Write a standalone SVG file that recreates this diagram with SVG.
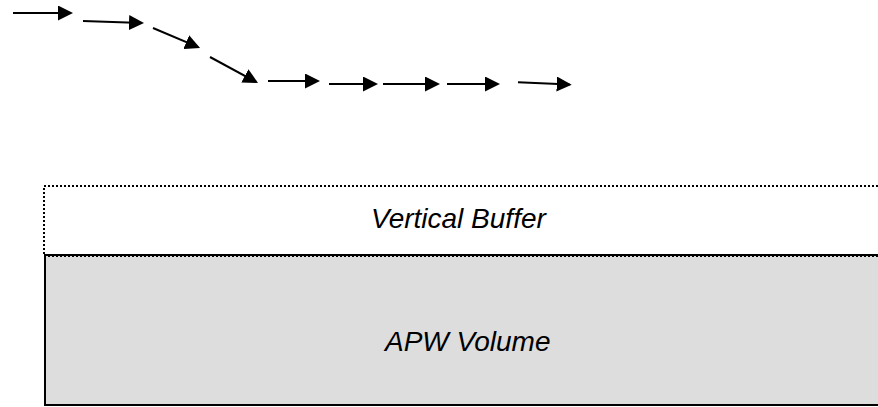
<svg xmlns="http://www.w3.org/2000/svg" width="878" height="407" viewBox="0 0 878 407">
<defs>
<marker id="ah" markerUnits="userSpaceOnUse" markerWidth="15" markerHeight="15" refX="13" refY="7.5" orient="auto">
<path d="M0,0 L15,7.5 L0,15 z" fill="#000"/>
</marker>
<style>
.arr{stroke:#000;stroke-width:2;fill:none;marker-end:url(#ah)}
.lbl{font-family:"Liberation Sans",Arial,sans-serif;font-style:italic;font-size:28px;fill:#000}
</style>
</defs>
<rect x="0" y="0" width="878" height="407" fill="#fff"/>
<g id="apw-volume">
<rect x="45" y="255" width="840" height="150" fill="#dddddd" stroke="#000" stroke-width="2"/>
<text class="lbl" x="385" y="351">APW Volume</text>
</g>
<g id="vertical-buffer">
<rect x="44" y="186" width="840" height="70" fill="none" stroke="#000" stroke-width="2" stroke-dasharray="2 2"/>
<text class="lbl" x="371" y="228">Vertical Buffer</text>
</g>
<g id="connectors">
<line class="arr" x1="13" y1="13" x2="71" y2="13"/>
<line class="arr" x1="83" y1="21" x2="142" y2="23"/>
<line class="arr" x1="153" y1="28" x2="198.2" y2="47.2"/>
<line class="arr" x1="210" y1="57" x2="256.3" y2="82"/>
<line class="arr" x1="268" y1="81" x2="318" y2="81"/>
<line class="arr" x1="329" y1="84" x2="376" y2="84"/>
<line class="arr" x1="383" y1="84" x2="438" y2="84"/>
<line class="arr" x1="447" y1="84" x2="498" y2="84"/>
<line class="arr" x1="518" y1="82.3" x2="569.7" y2="84.6"/>
</g>
</svg>
